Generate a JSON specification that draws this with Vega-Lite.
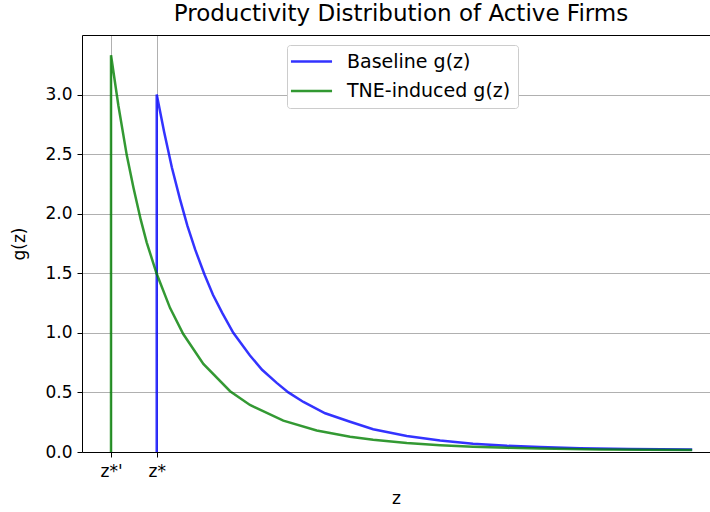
{
  "$schema": "https://vega.github.io/schema/vega-lite/v6.json",
  "width": 628,
  "height": 417,
  "autosize": "none",
  "padding": {"left": 82, "top": 35, "right": 0, "bottom": 60},
  "background": "white",
  "title": {"text": "Productivity Distribution of Active Firms", "fontSize": 23, "font": "DejaVu Sans", "fontWeight": "normal", "color": "black", "offset": 9, "dx": 5},
  "config": {
    "view": {"stroke": null},
    "font": "DejaVu Sans",
    "axis": {"labelFont": "DejaVu Sans", "titleFont": "DejaVu Sans", "labelFontSize": 17, "titleFontSize": 17, "titleFontWeight": "normal", "labelColor": "black", "titleColor": "black", "domainColor": "black", "domainWidth": 1, "tickColor": "black", "tickWidth": 1, "tickSize": 5, "gridColor": "#b0b0b0", "gridWidth": 1}
  },
  "data": {"values": [
    {"series": "Baseline g(z)", "i": 0, "z": 1.0, "g": 0},
    {"series": "Baseline g(z)", "i": 1, "z": 1.0, "g": 3.0},
    {"series": "Baseline g(z)", "i": 2, "z": 1.032, "g": 2.69},
    {"series": "Baseline g(z)", "i": 3, "z": 1.066, "g": 2.39},
    {"series": "Baseline g(z)", "i": 4, "z": 1.102, "g": 2.12},
    {"series": "Baseline g(z)", "i": 5, "z": 1.134, "g": 1.90},
    {"series": "Baseline g(z)", "i": 6, "z": 1.168, "g": 1.70},
    {"series": "Baseline g(z)", "i": 7, "z": 1.209, "g": 1.49},
    {"series": "Baseline g(z)", "i": 8, "z": 1.246, "g": 1.32},
    {"series": "Baseline g(z)", "i": 9, "z": 1.286, "g": 1.17},
    {"series": "Baseline g(z)", "i": 10, "z": 1.335, "g": 1.00},
    {"series": "Baseline g(z)", "i": 11, "z": 1.408, "g": 0.81},
    {"series": "Baseline g(z)", "i": 12, "z": 1.461, "g": 0.69},
    {"series": "Baseline g(z)", "i": 13, "z": 1.525, "g": 0.58},
    {"series": "Baseline g(z)", "i": 14, "z": 1.576, "g": 0.50},
    {"series": "Baseline g(z)", "i": 15, "z": 1.642, "g": 0.42},
    {"series": "Baseline g(z)", "i": 16, "z": 1.737, "g": 0.325},
    {"series": "Baseline g(z)", "i": 17, "z": 1.846, "g": 0.254},
    {"series": "Baseline g(z)", "i": 18, "z": 1.947, "g": 0.191},
    {"series": "Baseline g(z)", "i": 19, "z": 2.094, "g": 0.135},
    {"series": "Baseline g(z)", "i": 20, "z": 2.240, "g": 0.097},
    {"series": "Baseline g(z)", "i": 21, "z": 2.384, "g": 0.07},
    {"series": "Baseline g(z)", "i": 22, "z": 2.533, "g": 0.052},
    {"series": "Baseline g(z)", "i": 23, "z": 2.677, "g": 0.041},
    {"series": "Baseline g(z)", "i": 24, "z": 2.853, "g": 0.032},
    {"series": "Baseline g(z)", "i": 25, "z": 3.071, "g": 0.026},
    {"series": "Baseline g(z)", "i": 26, "z": 3.343, "g": 0.021},
    {"series": "TNE-induced g(z)", "i": 0, "z": 0.8, "g": 0},
    {"series": "TNE-induced g(z)", "i": 1, "z": 0.8, "g": 3.33},
    {"series": "TNE-induced g(z)", "i": 2, "z": 0.832, "g": 2.91},
    {"series": "TNE-induced g(z)", "i": 3, "z": 0.869, "g": 2.49},
    {"series": "TNE-induced g(z)", "i": 4, "z": 0.898, "g": 2.22},
    {"series": "TNE-induced g(z)", "i": 5, "z": 0.930, "g": 1.95},
    {"series": "TNE-induced g(z)", "i": 6, "z": 0.956, "g": 1.76},
    {"series": "TNE-induced g(z)", "i": 7, "z": 0.999, "g": 1.50},
    {"series": "TNE-induced g(z)", "i": 8, "z": 1.058, "g": 1.21},
    {"series": "TNE-induced g(z)", "i": 9, "z": 1.116, "g": 0.99},
    {"series": "TNE-induced g(z)", "i": 10, "z": 1.204, "g": 0.74},
    {"series": "TNE-induced g(z)", "i": 11, "z": 1.321, "g": 0.51},
    {"series": "TNE-induced g(z)", "i": 12, "z": 1.408, "g": 0.395},
    {"series": "TNE-induced g(z)", "i": 13, "z": 1.554, "g": 0.263},
    {"series": "TNE-induced g(z)", "i": 14, "z": 1.700, "g": 0.181},
    {"series": "TNE-induced g(z)", "i": 15, "z": 1.846, "g": 0.128},
    {"series": "TNE-induced g(z)", "i": 16, "z": 1.947, "g": 0.103},
    {"series": "TNE-induced g(z)", "i": 17, "z": 2.094, "g": 0.076},
    {"series": "TNE-induced g(z)", "i": 18, "z": 2.240, "g": 0.057},
    {"series": "TNE-induced g(z)", "i": 19, "z": 2.384, "g": 0.044},
    {"series": "TNE-induced g(z)", "i": 20, "z": 2.533, "g": 0.035},
    {"series": "TNE-induced g(z)", "i": 21, "z": 2.677, "g": 0.029},
    {"series": "TNE-induced g(z)", "i": 22, "z": 2.940, "g": 0.022},
    {"series": "TNE-induced g(z)", "i": 23, "z": 3.343, "g": 0.017}
  ]},
  "layer": [
    {
      "mark": {"type": "line", "strokeWidth": 2.5, "opacity": 0.8},
      "encoding": {
        "x": {"field": "z", "type": "quantitative", "scale": {"domain": [0.673, 3.421], "nice": false, "zero": false}, "axis": {"values": [0.8, 1.0], "labelExpr": "datum.value < 0.9 ? \"z*'\" : 'z*'", "title": "z", "grid": true, "labelPadding": 6, "titlePadding": 11}},
        "y": {"field": "g", "type": "quantitative", "scale": {"domain": [0, 3.5], "nice": false}, "axis": {"values": [0, 0.5, 1, 1.5, 2, 2.5, 3], "format": ".1f", "title": "g(z)", "grid": true, "labelPadding": 5, "titlePadding": 16}},
        "color": {"field": "series", "type": "nominal", "scale": {"domain": ["Baseline g(z)", "TNE-induced g(z)"], "range": ["#0000ff", "#008000"]}, "legend": {"title": null, "orient": "none", "legendX": 205, "legendY": 10, "symbolType": "M-2.5,0L2.5,0", "symbolSize": 270, "symbolOffset": 8, "symbolStrokeWidth": 2.5, "symbolOpacity": 0.8, "labelFontSize": 19, "labelFont": "DejaVu Sans", "labelColor": "black", "labelOffset": 26, "labelLimit": 400, "rowPadding": 9.5, "padding": 7, "strokeColor": "#cccccc", "fillColor": "white", "cornerRadius": 3}},
        "order": {"field": "i", "type": "quantitative"}
      }
    },
    {
      "mark": {"type": "line", "strokeOpacity": 0},
      "encoding": {
        "x": {"field": "z", "type": "quantitative", "axis": {"orient": "top", "labels": false, "ticks": false, "grid": false, "title": null, "domain": true}},
        "y": {"field": "g", "type": "quantitative", "axis": {"orient": "right", "labels": false, "ticks": false, "grid": false, "title": null, "domain": false}},
        "detail": {"field": "series"},
        "order": {"field": "i", "type": "quantitative"}
      }
    }
  ],
  "resolve": {"axis": {"x": "independent", "y": "independent"}}
}
